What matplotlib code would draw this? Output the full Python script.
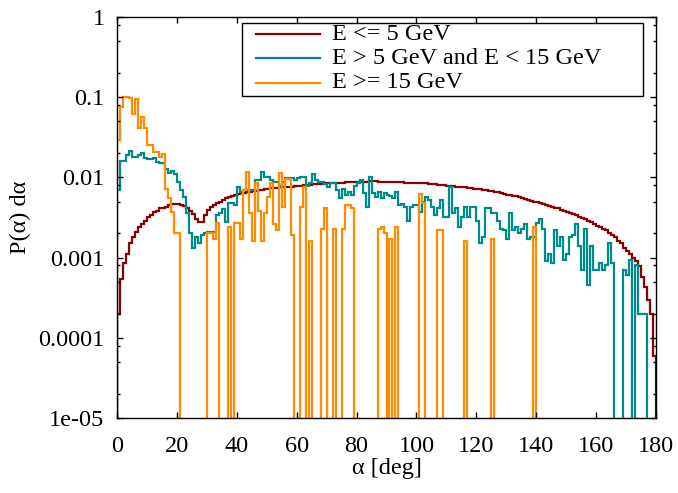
import numpy as np
import matplotlib
matplotlib.use('Agg')
import matplotlib.pyplot as plt
from matplotlib.ticker import LogLocator, NullLocator, NullFormatter
from matplotlib.patches import Rectangle

# angle bins, 1 degree wide
bin_edges = np.arange(0, 181)

# E <= 5 GeV
p_low = [
    0.0002, 0.00054, 0.00085, 0.0011, 0.0015, 0.0018, 0.0021, 0.0024, 0.0026, 0.0029,
    0.0032, 0.0034, 0.0037, 0.0038, 0.0041, 0.0042, 0.0043, 0.0045, 0.0046, 0.0047,
    0.0047, 0.0045, 0.0044, 0.0041, 0.0038, 0.0035, 0.0030, 0.0028, 0.0028, 0.0034,
    0.0039, 0.0043, 0.0045, 0.0048, 0.0050, 0.0053, 0.0055, 0.0057, 0.0059, 0.0060,
    0.0062, 0.0063, 0.0064, 0.0065, 0.0066, 0.0067, 0.0068, 0.0069, 0.0070, 0.0071,
    0.0072, 0.0073, 0.0073, 0.0074, 0.0075, 0.0075, 0.0076, 0.0077, 0.0077, 0.0078,
    0.0079, 0.0079, 0.0080, 0.0080, 0.0081, 0.0082, 0.0082, 0.0083, 0.0083, 0.0084,
    0.0084, 0.0085, 0.0085, 0.0086, 0.0086, 0.0086, 0.0087, 0.0087, 0.0087, 0.0088,
    0.0088, 0.0088, 0.0088, 0.0088, 0.0089, 0.0089, 0.0089, 0.0088, 0.0088, 0.0088,
    0.0088, 0.0088, 0.0088, 0.0087, 0.0087, 0.0087, 0.0086, 0.0086, 0.0086, 0.0085,
    0.0085, 0.0085, 0.0084, 0.0084, 0.0083, 0.0083, 0.0082, 0.0081, 0.0081, 0.0080,
    0.0079, 0.0079, 0.0078, 0.0077, 0.0076, 0.0076, 0.0075, 0.0074, 0.0073, 0.0072,
    0.0072, 0.0071, 0.0070, 0.0069, 0.0068, 0.0067, 0.0066, 0.0065, 0.0064, 0.0062,
    0.0061, 0.0060, 0.0059, 0.0058, 0.0057, 0.0056, 0.0054, 0.0053, 0.0051, 0.0050,
    0.0049, 0.0048, 0.0046, 0.0045, 0.0044, 0.0043, 0.0042, 0.0041, 0.0039, 0.0038,
    0.0037, 0.0036, 0.0035, 0.0034, 0.0032, 0.0031, 0.0030, 0.0029, 0.0028, 0.0026,
    0.0025, 0.0024, 0.0023, 0.0022, 0.0020, 0.0019, 0.0018, 0.0016, 0.0015, 0.0013,
    0.0012, 0.0011, 0.0010, 0.0009, 0.00078, 0.00058, 0.00043, 0.0003, 0.0002, 0.00006,
]

# 5 GeV < E < 15 GeV
p_mid = [
    0.0069, 0.016, 0.016, 0.019, 0.0215, 0.018, 0.018, 0.019, 0.020, 0.0175,
    0.017, 0.017, 0.0175, 0.0156, 0.015, 0.015, 0.0129, 0.0113, 0.012, 0.011,
    0.0088, 0.0070, 0.0057, 0.0036, 0.0020, 0.0013, 0.0018, 0.0015, 0.0019, 0.0020,
    0.0021, 0.0021, 0.0021, 0.0034, 0.0036, 0.0040, 0.0028, 0.0048, 0.0048, 0.0045,
    0.0076, 0.0065, 0.0069, 0.0069, 0.0069, 0.0069, 0.0093, 0.0093, 0.0118, 0.0102,
    0.0102, 0.0093, 0.0088, 0.0088, 0.0078, 0.0088, 0.0097, 0.0097, 0.0097, 0.0093,
    0.0097, 0.0102, 0.0102, 0.0078, 0.0085, 0.0110, 0.0093, 0.0088, 0.0088, 0.0083,
    0.0077, 0.0085, 0.0085, 0.0069, 0.0055, 0.0072, 0.0060, 0.0066, 0.0060, 0.0078,
    0.0085, 0.0093, 0.0063, 0.0043, 0.0102, 0.0063, 0.0057, 0.0066, 0.0055, 0.0063,
    0.0060, 0.0058, 0.0055, 0.0066, 0.0045, 0.0047, 0.0043, 0.0029, 0.0043, 0.0045,
    0.0045, 0.0037, 0.0050, 0.0057, 0.0052, 0.0043, 0.0034, 0.0041, 0.0052, 0.0032,
    0.0032, 0.0077, 0.0036, 0.0041, 0.0024, 0.0032, 0.0043, 0.0032, 0.0043, 0.0043,
    0.0029, 0.0015, 0.0018, 0.0041, 0.0041, 0.0036, 0.0036, 0.0029, 0.0023, 0.0022,
    0.0017, 0.0036, 0.0022, 0.0024, 0.0020, 0.0023, 0.0026, 0.0017, 0.0018, 0.0018,
    0.0027, 0.0030, 0.0023, 0.0009, 0.0011, 0.00085, 0.0022, 0.0014, 0.0018, 0.00093,
    0.0011, 0.0018, 0.0019, 0.0026, 0.0014, 0.0007, 0.0023, 0.00046, 0.0014, 0.0007,
    0.0007, 0.00085, 0.0007, 0.0008, 0.0015, 0.00085, 0, 0, 0, 0.0007,
    0.0006, 0.00093, 0, 0.0008, 0.0002, 0.0002, 0.0002, 0, 0, 0,
]

# E >= 15 GeV
p_high = [
    0.029, 0.076, 0.10, 0.10, 0.097, 0.062, 0.096, 0.041, 0.056, 0.041,
    0.025, 0.025, 0.021, 0.021, 0.018, 0.0195, 0.0072, 0.0055, 0.0037, 0.0020,
    0.0020, 0, 0, 0, 0, 0, 0, 0, 0, 0,
    0.0020, 0.0020, 0.0017, 0.0027, 0, 0, 0, 0.0024, 0, 0.0027,
    0.0027, 0.0017, 0.0070, 0.0118, 0.0036, 0.0016, 0.0085, 0.0038, 0.0016, 0.0036,
    0.0057, 0.0085, 0.0026, 0.0022, 0.0113, 0.0043, 0.0095, 0.0095, 0.0019, 0,
    0, 0.0043, 0.0075, 0, 0.0016, 0, 0, 0, 0.0023, 0.0041,
    0, 0, 0.0023, 0, 0, 0.0023, 0.0045, 0.0045, 0.0042, 0,
    0, 0, 0, 0, 0, 0, 0, 0.0023, 0.0024, 0.0020,
    0, 0.0017, 0, 0.0024, 0, 0, 0, 0, 0, 0,
    0, 0.0062, 0.0048, 0, 0, 0, 0, 0.0022, 0.0022, 0,
    0, 0, 0, 0, 0, 0, 0.0016, 0, 0, 0,
    0, 0, 0, 0, 0, 0.0017, 0, 0, 0, 0,
    0, 0, 0, 0, 0, 0, 0, 0, 0, 0.0024,
    0, 0, 0, 0, 0, 0, 0, 0, 0, 0,
    0, 0, 0, 0, 0, 0, 0, 0, 0, 0,
    0, 0, 0, 0, 0, 0, 0, 0, 0, 0,
    0, 0, 0, 0, 0, 0, 0, 0, 0, 0,
]

series_labels = ['E <= 5 GeV', 'E > 5 GeV and E < 15 GeV', 'E >= 15 GeV']
series_colors = ['#8b0000', '#008b8b', '#ff8c00']

x_ticks = [0, 20, 40, 60, 80, 100, 120, 140, 160, 180]
y_ticks = [1e-5, 1e-4, 1e-3, 1e-2, 1e-1, 1]
y_tick_labels = ['1e-05', '0.0001', '0.001', '0.01', '0.1', '1']

plt.rcParams['font.family'] = ['Liberation Serif', 'DejaVu Serif']
plt.rcParams['font.size'] = 17.5

W, H = 678, 493
fig = plt.figure(figsize=(W / 100, H / 100), dpi=100)
ax = fig.add_axes([117 / W, 1 - 418 / H, 539 / W, 401 / H])

for vals, col in zip([p_low, p_mid, p_high], series_colors):
    ax.stairs(vals, bin_edges, color=col, lw=1.6)

ax.set_yscale('log', nonpositive='clip')
ax.set_xlim(0, 180)
ax.set_ylim(1e-5, 1)
ax.set_xticks(x_ticks)
ax.set_yticks(y_ticks, y_tick_labels)
ax.xaxis.set_minor_locator(NullLocator())
ax.yaxis.set_minor_locator(LogLocator(base=10, subs=(2, 5, 8)))
ax.yaxis.set_minor_formatter(NullFormatter())
ax.tick_params(which='both', direction='in', top=True, right=True, width=1)
ax.tick_params(which='major', length=4.5)
ax.tick_params(which='minor', length=2.5)
ax.tick_params(axis='y', pad=9)
ax.tick_params(axis='x', pad=13)
for s in ax.spines.values():
    s.set_linewidth(1.0)

ax.set_xlabel('α [deg]', labelpad=1)
ax.set_ylabel('P(α) dα', labelpad=5)

# key box, gnuplot style
def to_ax(px, py):
    return (px - 117) / 539, 1 - (py - 17) / 401

x0, y0 = to_ax(242, 23)
x1, y1 = to_ax(643, 96)
ax.add_patch(Rectangle((x0, y1), x1 - x0, y0 - y1, transform=ax.transAxes,
                       fill=False, ec='black', lw=1.0, clip_on=False, zorder=5))
for i, (lab, col) in enumerate(zip(series_labels, series_colors)):
    ly = to_ax(0, 34 + 24.3 * i)[1]
    lx0 = to_ax(256, 0)[0]
    lx1 = to_ax(320, 0)[0]
    ax.plot([lx0, lx1], [ly, ly], color=col, lw=1.6, transform=ax.transAxes,
            clip_on=False, zorder=6)
    ax.text(to_ax(332, 0)[0], ly, lab, transform=ax.transAxes, va='center',
            ha='left', zorder=6)

fig.savefig('out.png', dpi=100)
